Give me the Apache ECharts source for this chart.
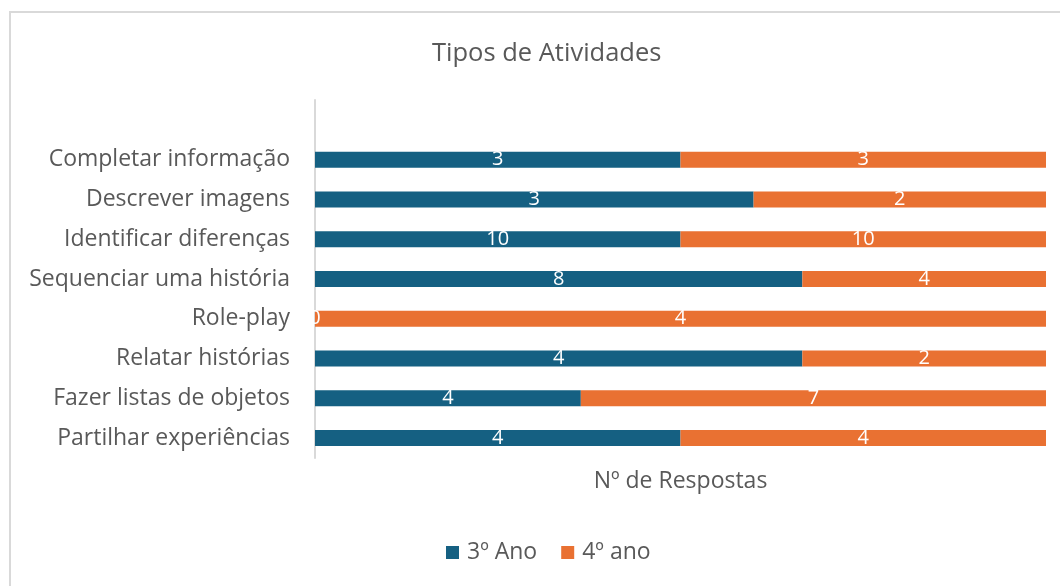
<!DOCTYPE html>
<html>
<head>
<meta charset="utf-8">
<script src="https://cdn.jsdelivr.net/npm/echarts@6/dist/echarts.min.js"></script>
<style>
    html, body { margin: 0; padding: 0; background: #fff; overflow: hidden; }
    #frame {
        position: absolute;
        left: 9px;
        top: 11px;
        width: 1080px;
        height: 620px;
        border: 2px solid #d9d9d9;
    }
    #main {
        position: absolute;
        left: 0;
        top: 0;
        width: 1060px;
        height: 586px;
    }
</style>
</head>
<body>
<div id="frame"></div>
<div id="main"></div>
<script>
    // categorias de cima para baixo
    var categories = [
        'Completar informação',
        'Descrever imagens',
        'Identificar diferenças',
        'Sequenciar uma história',
        'Role-play',
        'Relatar histórias',
        'Fazer listas de objetos',
        'Partilhar experiências'
    ];
    var ano3 = [3, 3, 10, 8, 0, 4, 4, 4];
    var ano4 = [3, 2, 10, 4, 4, 2, 7, 4];

    // barras a 100%: guarda o valor original para a etiqueta
    function pct(a, b) {
        var list = [null];
        for (var i = 0; i < a.length; i++) {
            var t = a[i] + b[i];
            list.push({value: t ? a[i] / t * 100 : 0, raw: a[i]});
        }
        return list;
    }

    var labelStyle = {
        show: true,
        position: 'inside',
        color: '#ffffff',
        fontSize: 20,
        fontFamily: 'Open Sans',
        formatter: function (p) { return p.data ? p.data.raw : ''; }
    };

    var option = {
        animation: false,
        textStyle: { fontFamily: 'Open Sans' },
        title: {
            text: 'Tipos de Atividades',
            left: 427,
            top: 36,
            textStyle: { color: '#595959', fontSize: 25.5, fontWeight: 'normal', fontFamily: 'Open Sans' }
        },
        legend: {
            bottom: 17,
            left: 441,
            itemWidth: 13,
            itemHeight: 13,
            itemGap: 24,
            icon: 'rect',
            textStyle: { color: '#595959', fontSize: 23, fontFamily: 'Open Sans', padding: [0, 0, 0, 3] },
            data: ['3º Ano', '4º ano']
        },
        grid: {
            left: 315,
            right: 14,
            top: 100,
            bottom: 128
        },
        xAxis: {
            type: 'value',
            min: 0,
            max: 100,
            axisLabel: { show: false },
            axisTick: { show: false },
            axisLine: { show: false },
            splitLine: { show: false },
            name: 'Nº de Respostas',
            nameLocation: 'middle',
            nameGap: 12,
            nameTextStyle: { color: '#595959', fontSize: 23, fontFamily: 'Open Sans' }
        },
        yAxis: {
            type: 'category',
            inverse: true,
            data: [''].concat(categories),
            axisTick: { show: false },
            axisLine: { show: true, lineStyle: { color: '#d9d9d9', width: 2 } },
            axisLabel: { color: '#595959', fontSize: 23, margin: 25, fontFamily: 'Open Sans' }
        },
        series: [
            {
                name: '3º Ano',
                type: 'bar',
                stack: 'total',
                barWidth: 16,
                itemStyle: { color: '#156082' },
                label: labelStyle,
                data: pct(ano3, ano4)
            },
            {
                name: '4º ano',
                type: 'bar',
                stack: 'total',
                barWidth: 16,
                itemStyle: { color: '#e97132' },
                label: labelStyle,
                data: pct(ano4, ano3)
            }
        ]
    };

    var chart = echarts.init(document.getElementById('main'));
    chart.setOption(option);
</script>
</body>
</html>
